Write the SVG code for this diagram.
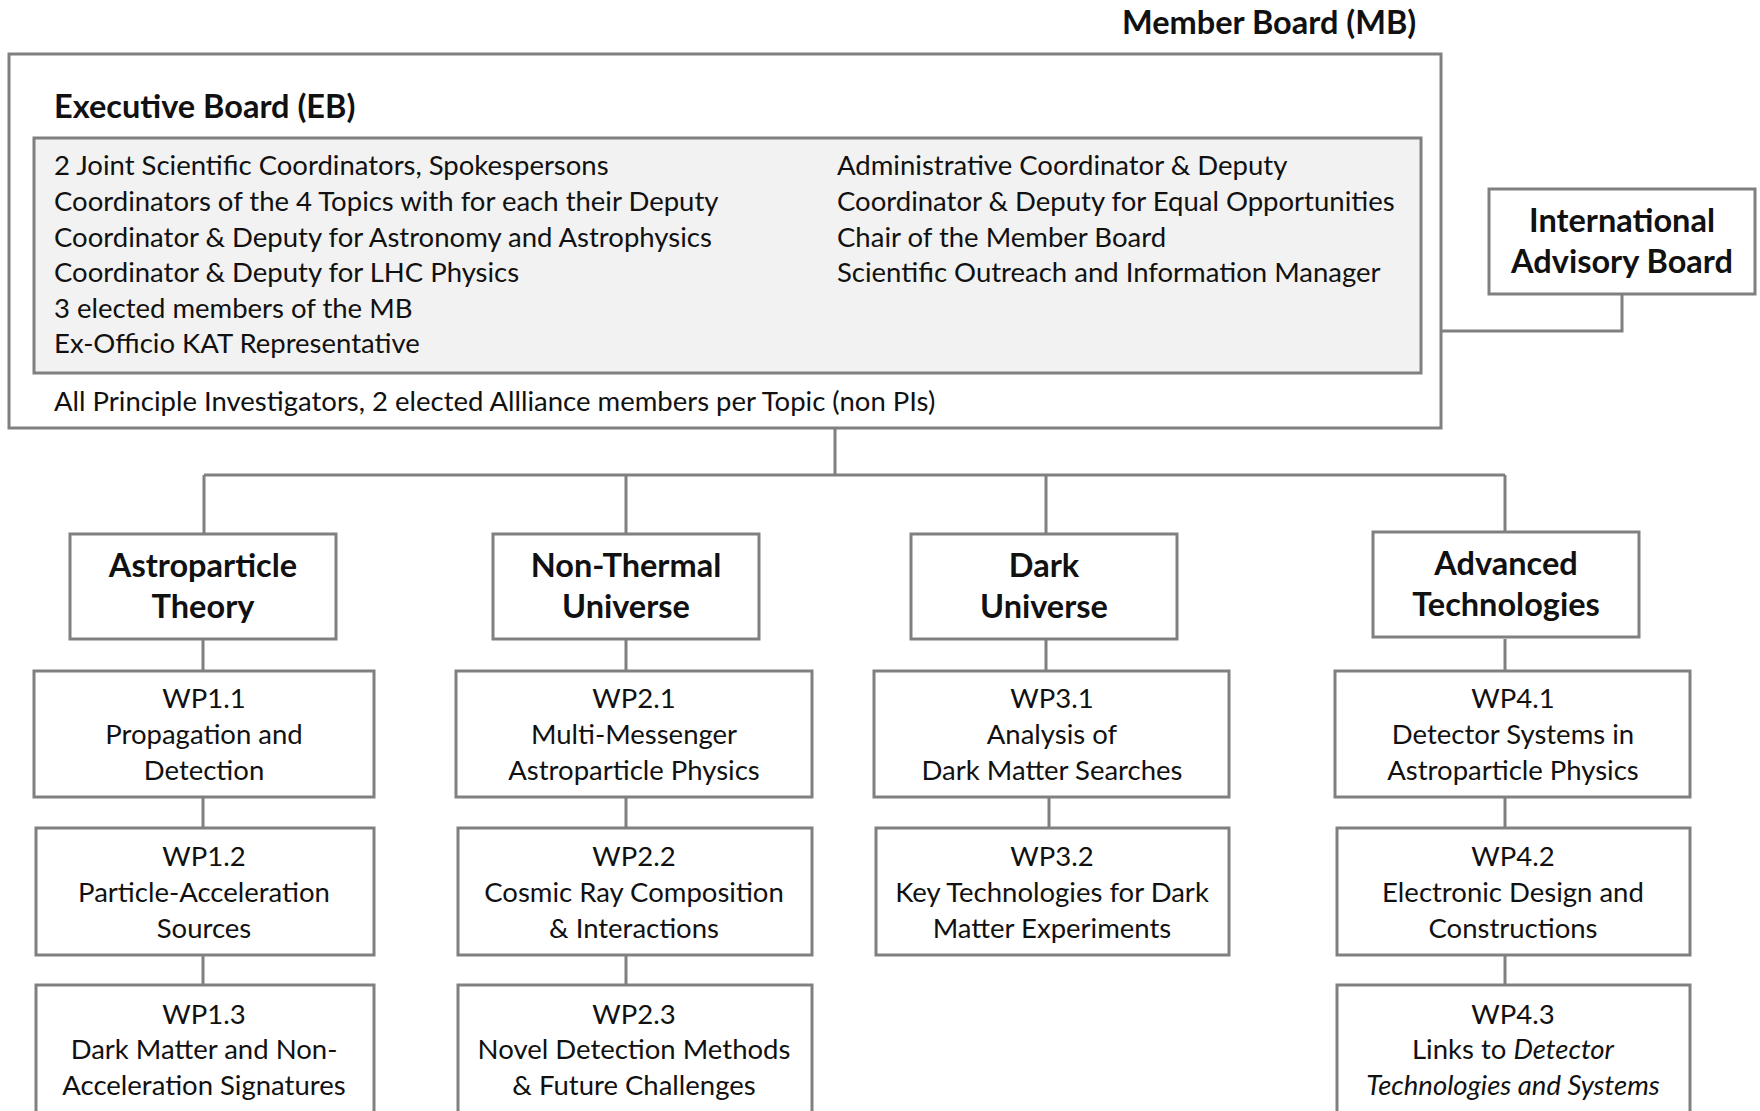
<svg xmlns="http://www.w3.org/2000/svg" width="1760" height="1111" viewBox="0 0 1760 1111">
<style>
.box{fill:#ffffff;stroke:#808080;stroke-width:3}
.inner{fill:#f2f2f2;stroke:#808080;stroke-width:3}
.con{fill:none;stroke:#808080;stroke-width:3}
text{font-family:Lato,"Open Sans","Liberation Sans",sans-serif;fill:#111111}
.t{font-size:27.5px}
.h{font-size:32.5px;font-weight:bold}
.tp{font-size:32.5px;font-weight:bold;text-anchor:middle}
.wp{font-size:27.5px;text-anchor:middle}
</style>
<rect width="1760" height="1111" fill="#ffffff"/>
<g id="connectors">
<path class="con" d="M835 428 V475 M204 475 H1505 M204 475 V534 M626 475 V534 M1046 475 V534 M1505 475 V534"/>
<path class="con" d="M1441 331 H1622 V294"/>
<path class="con" d="M203 639 V671 M203 797 V828 M203 955 V985"/>
<path class="con" d="M626 639 V671 M626 797 V828 M626 955 V985"/>
<path class="con" d="M1046 639 V671 M1049 797 V828"/>
<path class="con" d="M1505 639 V671 M1505 797 V828 M1505 955 V985"/>
</g>
<g id="member-board">
<text class="h" x="1122" y="34">Member Board (MB)</text>
<rect class="box" x="9" y="54" width="1432" height="374"/>
<text class="t" x="54" y="411">All Principle Investigators, 2 elected Allliance members per Topic (non PIs)</text>
</g>
<g id="executive-board">
<text class="h" x="54" y="118">Executive Board (EB)</text>
<rect class="inner" x="34" y="138" width="1387" height="235"/>
<text class="t" x="54" y="175">2 Joint Scientific Coordinators, Spokespersons</text>
<text class="t" x="54" y="211">Coordinators of the 4 Topics with for each their Deputy</text>
<text class="t" x="54" y="247">Coordinator &amp; Deputy for Astronomy and Astrophysics</text>
<text class="t" x="54" y="282">Coordinator &amp; Deputy for LHC Physics</text>
<text class="t" x="54" y="318">3 elected members of the MB</text>
<text class="t" x="54" y="353">Ex-Officio KAT Representative</text>
<text class="t" x="837" y="175">Administrative Coordinator &amp; Deputy</text>
<text class="t" x="837" y="211">Coordinator &amp; Deputy for Equal Opportunities</text>
<text class="t" x="837" y="247">Chair of the Member Board</text>
<text class="t" x="837" y="282">Scientific Outreach and Information Manager</text>
</g>
<g id="iab">
<rect class="box" x="1489" y="189" width="266" height="105"/>
<text class="tp" x="1622" y="232">International</text>
<text class="tp" x="1622" y="273">Advisory Board</text>
</g>
<g id="topic-astroparticle-theory">
<rect class="box" x="70" y="534" width="266" height="105"/>
<text class="tp" x="203" y="577">Astroparticle</text>
<text class="tp" x="203" y="618">Theory</text>
</g>
<g id="topic-non-thermal-universe">
<rect class="box" x="493" y="534" width="266" height="105"/>
<text class="tp" x="626" y="577">Non-Thermal</text>
<text class="tp" x="626" y="618">Universe</text>
</g>
<g id="topic-dark-universe">
<rect class="box" x="911" y="534" width="266" height="105"/>
<text class="tp" x="1044" y="577">Dark</text>
<text class="tp" x="1044" y="618">Universe</text>
</g>
<g id="topic-advanced-technologies">
<rect class="box" x="1373" y="532" width="266" height="105"/>
<text class="tp" x="1506" y="575">Advanced</text>
<text class="tp" x="1506" y="616">Technologies</text>
</g>
<g id="wp1-1">
<rect class="box" x="34" y="671" width="340" height="126"/>
<text class="wp" x="204" y="708">WP1.1</text>
<text class="wp" x="204" y="744">Propagation and</text>
<text class="wp" x="204" y="780">Detection</text>
</g>
<g id="wp1-2">
<rect class="box" x="36" y="828" width="338" height="127"/>
<text class="wp" x="204" y="866">WP1.2</text>
<text class="wp" x="204" y="902">Particle-Acceleration</text>
<text class="wp" x="204" y="938">Sources</text>
</g>
<g id="wp1-3">
<rect class="box" x="36" y="985" width="338" height="140"/>
<text class="wp" x="204" y="1024">WP1.3</text>
<text class="wp" x="204" y="1059">Dark Matter and Non-</text>
<text class="wp" x="204" y="1095">Acceleration Signatures</text>
</g>
<g id="wp2-1">
<rect class="box" x="456" y="671" width="356" height="126"/>
<text class="wp" x="634" y="708">WP2.1</text>
<text class="wp" x="634" y="744">Multi-Messenger</text>
<text class="wp" x="634" y="780">Astroparticle Physics</text>
</g>
<g id="wp2-2">
<rect class="box" x="458" y="828" width="354" height="127"/>
<text class="wp" x="634" y="866">WP2.2</text>
<text class="wp" x="634" y="902">Cosmic Ray Composition</text>
<text class="wp" x="634" y="938">&amp; Interactions</text>
</g>
<g id="wp2-3">
<rect class="box" x="458" y="985" width="354" height="140"/>
<text class="wp" x="634" y="1024">WP2.3</text>
<text class="wp" x="634" y="1059">Novel Detection Methods</text>
<text class="wp" x="634" y="1095">&amp; Future Challenges</text>
</g>
<g id="wp3-1">
<rect class="box" x="874" y="671" width="355" height="126"/>
<text class="wp" x="1052" y="708">WP3.1</text>
<text class="wp" x="1052" y="744">Analysis of</text>
<text class="wp" x="1052" y="780">Dark Matter Searches</text>
</g>
<g id="wp3-2">
<rect class="box" x="876" y="828" width="353" height="127"/>
<text class="wp" x="1052" y="866">WP3.2</text>
<text class="wp" x="1052" y="902">Key Technologies for Dark</text>
<text class="wp" x="1052" y="938">Matter Experiments</text>
</g>
<g id="wp4-1">
<rect class="box" x="1335" y="671" width="355" height="126"/>
<text class="wp" x="1513" y="708">WP4.1</text>
<text class="wp" x="1513" y="744">Detector Systems in</text>
<text class="wp" x="1513" y="780">Astroparticle Physics</text>
</g>
<g id="wp4-2">
<rect class="box" x="1337" y="828" width="353" height="127"/>
<text class="wp" x="1513" y="866">WP4.2</text>
<text class="wp" x="1513" y="902">Electronic Design and</text>
<text class="wp" x="1513" y="938">Constructions</text>
</g>
<g id="wp4-3">
<rect class="box" x="1337" y="985" width="353" height="140"/>
<text class="wp" x="1513" y="1024">WP4.3</text>
<text class="wp" x="1513" y="1059">Links to <tspan font-style="italic">Detector</tspan></text>
<text class="wp" x="1513" y="1095" font-style="italic">Technologies and Systems</text>
</g>
</svg>
